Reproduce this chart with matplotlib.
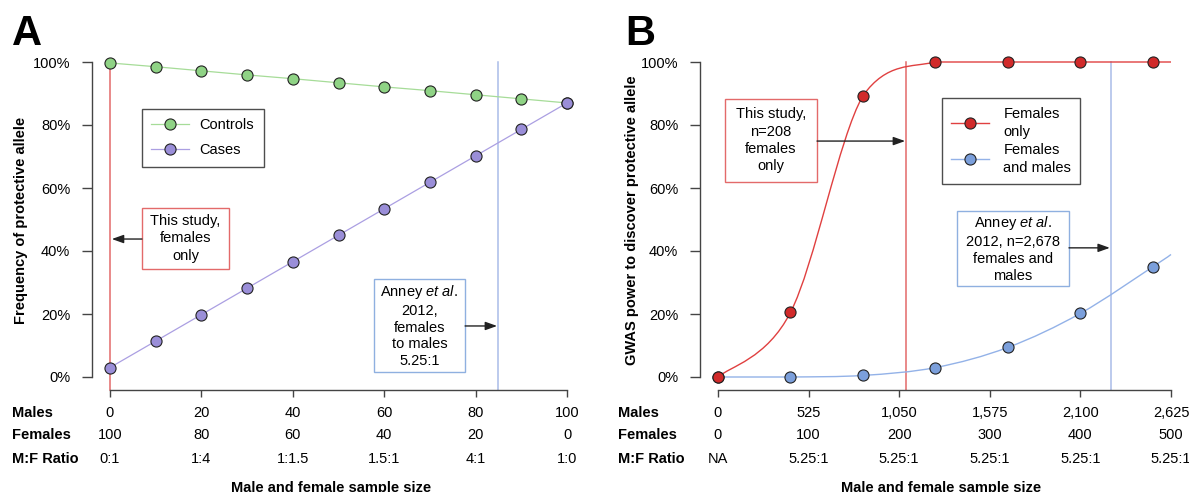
import numpy as np
import matplotlib.pyplot as plt
from matplotlib.path import Path
from matplotlib.patches import PathPatch, Rectangle
from matplotlib.transforms import blended_transform_factory
from matplotlib.lines import Line2D

plt.rcParams['font.family'] = ['Liberation Sans', 'DejaVu Sans']
plt.rcParams['font.size'] = 10.5
plt.rcParams['mathtext.fontset'] = 'custom'
plt.rcParams['mathtext.rm'] = 'Liberation Sans'
plt.rcParams['mathtext.it'] = 'Liberation Sans:italic'

# ---- panel A data ----
a_males = [0, 10, 20, 30, 40, 50, 60, 70, 80, 90, 100]
a_controls = [99.7, 98.5, 97.2, 95.9, 94.7, 93.4, 92.1, 90.9, 89.6, 88.3, 87.0]
a_cases = [3.0, 11.4, 19.8, 28.2, 36.6, 45.0, 53.4, 61.8, 70.2, 78.6, 87.0]
a_ticks = [0, 20, 40, 60, 80, 100]
a_tick_males = ['0', '20', '40', '60', '80', '100']
a_tick_females = ['100', '80', '60', '40', '20', '0']
a_tick_ratio = ['0:1', '1:4', '1:1.5', '1.5:1', '4:1', '1:0']
a_this_study = 0
a_anney = 85

# ---- panel B data (x in number of females, males = 5.25 x females) ----
b_females = [0, 80, 160, 240, 320, 400, 480]
b_fem_only = [0.0, 20.5, 89.3, 100.0, 100.0, 100.0, 100.0]
b_fem_male = [0.0, 0.0, 0.5, 3.0, 9.4, 20.2, 35.0]
b_line_end = 500
b_fem_only_end = 100.0
b_fem_male_end = 38.9
b_ticks = [0, 100, 200, 300, 400, 500]
b_tick_males = ['0', '525', '1,050', '1,575', '2,100', '2,625']
b_tick_females = ['0', '100', '200', '300', '400', '500']
b_tick_ratio = ['NA', '5.25:1', '5.25:1', '5.25:1', '5.25:1', '5.25:1']
b_this_study = 208
b_anney = 434

W, H = 1189, 492
GREEN, GREEN_L = '#8fd385', '#a6dc98'
PURPLE, PURPLE_L = '#9a8ed8', '#ab9fe2'
RED, RED_L = '#d12a2a', '#e04040'
BLUE, BLUE_L = '#7b9fdb', '#93b2e8'
VRED, VBLUE = '#e36a6a', '#a9bce8'
BOXBLUE = '#8fb0e0'
SPINE = '#444444'


def smooth_path(x, y):
    # smoothed line through the points: catmull-rom control points, kept inside each segment's y range
    pts = np.column_stack([x, y]).astype(float)
    n = len(pts)
    tang = [(pts[min(i + 1, n - 1)] - pts[max(i - 1, 0)]) / 6 for i in range(n)]
    verts = [pts[0]]
    codes = [Path.MOVETO]
    for i in range(n - 1):
        lo, hi = sorted([pts[i, 1], pts[i + 1, 1]])
        c1 = pts[i] + tang[i]
        c2 = pts[i + 1] - tang[i + 1]
        c1[1] = min(max(c1[1], lo), hi)
        c2[1] = min(max(c2[1], lo), hi)
        verts += [c1, c2, pts[i + 1]]
        codes += [Path.CURVE4] * 3
    return Path(verts, codes)


def style_axes(ax, xmax):
    ax.set_xlim(0, xmax)
    ax.set_ylim(0, 100)
    for s in ['top', 'right']:
        ax.spines[s].set_visible(False)
    ax.spines['left'].set_position(('outward', 13))
    ax.spines['bottom'].set_position(('outward', 9.4))
    ax.spines['left'].set_bounds(0, 100)
    ax.spines['bottom'].set_bounds(0, xmax)
    for s in ['left', 'bottom']:
        ax.spines[s].set_color(SPINE)
        ax.spines[s].set_linewidth(1.0)
    ax.set_yticks([0, 20, 40, 60, 80, 100])
    ax.set_yticklabels([f'{v}%' for v in [0, 20, 40, 60, 80, 100]])
    ax.tick_params(axis='y', length=7.2, width=1.0, color=SPINE, pad=8.5, labelsize=10.5)
    ax.tick_params(axis='x', length=5, width=1.0, color=SPINE, labelbottom=False)
    ax.patch.set_visible(False)


def tick_rows(ax, ticks, rows, label_x):
    tr = blended_transform_factory(ax.transData, fig.transFigure)
    ys = [(H - 417.3) / H, (H - 439.3) / H, (H - 463.3) / H]
    names = ['Males', 'Females', 'M:F Ratio']
    for row, yy, name in zip(rows, ys, names):
        for t, lab in zip(ticks, row):
            ax.text(t, yy, lab, transform=tr, ha='center', va='baseline', fontsize=10.5)
        fig.text(label_x / W, yy, name, ha='left', va='baseline', fontsize=10.5, fontweight='bold')


def box_note(ax, x, y, w, h, text, edge, ls=1.3):
    # w, h in data units
    ax.add_patch(Rectangle((x - w / 2, y - h / 2), w, h, facecolor='white', edgecolor=edge,
                           lw=1.0, zorder=6, clip_on=False))
    ax.text(x, y, text, ha='center', va='center', fontsize=10.5, linespacing=ls, zorder=7)


def arrow(ax, x0, x1, y):
    ax.annotate('', xy=(x1, y), xytext=(x0, y), zorder=6,
                arrowprops=dict(arrowstyle='-|>,head_length=0.7,head_width=0.25', color='#222222',
                                lw=1.0, shrinkA=0, shrinkB=0, mutation_scale=10))


fig = plt.figure(figsize=(W / 100, H / 100), dpi=100)
axA = fig.add_axes([110 / W, (H - 377) / H, 457 / W, 315 / H])
axB = fig.add_axes([718 / W, (H - 377) / H, 453 / W, 315 / H])
pxA, pxB, pyy = 457 / 100, 453 / 500, 315 / 100   # pixels per data unit

# ---------- panel A ----------
style_axes(axA, 100)
axA.set_xticks(a_ticks)
low = -13 / 315 * 100
axA.plot([a_this_study, a_this_study], [low, 100], color=VRED, lw=1.1, clip_on=False, zorder=2)
axA.plot([a_anney, a_anney], [low, 100], color=VBLUE, lw=1.1, clip_on=False, zorder=2)
axA.plot(a_males, a_controls, color=GREEN_L, lw=0.9, marker='o', ms=8, mfc=GREEN, mec='#222222',
         mew=0.8, clip_on=False, zorder=4, label='Controls')
axA.plot(a_males, a_cases, color=PURPLE_L, lw=0.9, marker='o', ms=8, mfc=PURPLE, mec='#222222',
         mew=0.8, clip_on=False, zorder=4, label='Cases')
legA = axA.legend(loc='upper left', bbox_to_anchor=(0.070, 0.851), borderaxespad=0, frameon=True,
                  fancybox=False, edgecolor='#222222', handlelength=2.6, handletextpad=0.7,
                  labelspacing=0.75, borderpad=0.65, fontsize=10.5)
legA.get_frame().set_linewidth(1.0)
box_note(axA, 16.5, 44.0, 87 / pxA, 61 / pyy, 'This study,\nfemales\nonly', VRED)
arrow(axA, 7.0, 0.4, 43.8)
box_note(axA, 67.7, 16.3, 91 / pxA, 93 / pyy,
         'Anney $\\it{et\\ al.}$\n2012,\nfemales\nto males\n5.25:1', BOXBLUE, ls=1.25)
arrow(axA, 77.7, 84.7, 16.2)
tick_rows(axA, a_ticks, [a_tick_males, a_tick_females, a_tick_ratio], 12)
fig.text(21.5 / W, (H - 220) / H, 'Frequency of protective allele', rotation=90, ha='center',
         va='center', fontsize=10.5, fontweight='bold')
fig.text(331 / W, 0.001, 'Male and female sample size', ha='center', va='baseline',
         fontsize=10.5, fontweight='bold')
fig.text(12 / W, (H - 45) / H, 'A', fontsize=30, fontweight='bold', va='baseline', ha='left')

# ---------- panel B ----------
style_axes(axB, 500)
axB.set_xticks(b_ticks)
axB.plot([b_this_study, b_this_study], [low, 100], color=VRED, lw=1.1, clip_on=False, zorder=2)
axB.plot([b_anney, b_anney], [low, 100], color=VBLUE, lw=1.1, clip_on=False, zorder=2)
for xs, ys, lc in [(b_females + [b_line_end], b_fem_male + [b_fem_male_end], BLUE_L),
                   (b_females + [b_line_end], b_fem_only + [b_fem_only_end], RED_L)]:
    axB.add_patch(PathPatch(smooth_path(xs, ys), fill=False, edgecolor=lc, lw=1.0,
                            clip_on=False, zorder=3))
axB.plot(b_females, b_fem_male, ls='none', marker='o', ms=8, mfc=BLUE, mec='#222222', mew=0.8,
         clip_on=False, zorder=4)
axB.plot(b_females, b_fem_only, ls='none', marker='o', ms=8, mfc=RED, mec='#222222', mew=0.8,
         clip_on=False, zorder=5)
hB = [Line2D([], [], color=RED_L, lw=1.0, marker='o', ms=8, mfc=RED, mec='#222222', mew=0.8),
      Line2D([], [], color=BLUE_L, lw=1.0, marker='o', ms=8, mfc=BLUE, mec='#222222', mew=0.8)]
legB = axB.legend(hB, ['Females\nonly', 'Females\nand males'], loc='upper left',
                  bbox_to_anchor=(0.4945, 0.8857), borderaxespad=0, frameon=True, fancybox=False,
                  edgecolor='#222222', handlelength=2.6, handletextpad=1.0, labelspacing=0.25,
                  borderpad=0.6, fontsize=10.5)
legB.get_frame().set_linewidth(1.0)
for t in legB.get_texts():
    t.set_linespacing(1.38)
box_note(axB, 58.5, 75.1, 92 / pxB, 83 / pyy, 'This study,\nn=208\nfemales\nonly', VRED)
arrow(axB, 109.3, 206.5, 74.9)
box_note(axB, 325.6, 40.8, 112 / pxB, 75 / pyy,
         'Anney $\\it{et\\ al.}$\n2012, n=2,678\nfemales and\nmales', BOXBLUE, ls=1.25)
arrow(axB, 387.4, 432.5, 41.0)
tick_rows(axB, b_ticks, [b_tick_males, b_tick_females, b_tick_ratio], 618)
fig.text(632 / W, (H - 220) / H, 'GWAS power to discover protective allele', rotation=90,
         ha='center', va='center', fontsize=10.5, fontweight='bold')
fig.text(941 / W, 0.001, 'Male and female sample size', ha='center', va='baseline',
         fontsize=10.5, fontweight='bold')
fig.text(625 / W, (H - 45) / H, 'B', fontsize=30, fontweight='bold', va='baseline', ha='left')

fig.savefig('out.png', dpi=100)
